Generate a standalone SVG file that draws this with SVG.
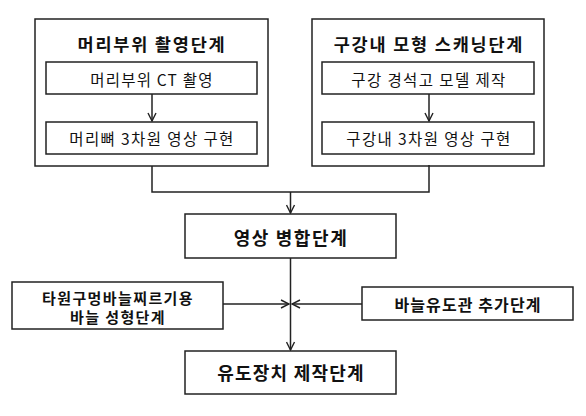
<svg xmlns="http://www.w3.org/2000/svg" width="586" height="416" viewBox="0 0 586 416">
<style>
.box{fill:#fff;stroke:#222;stroke-width:1.5}
.t{font-family:"Noto Sans CJK KR","Noto Sans",sans-serif;fill:#111;text-anchor:middle;dominant-baseline:central}
.b{font-weight:bold}
.ln{fill:none;stroke:#222;stroke-width:1.5}
</style>
<defs>
<marker id="ah" viewBox="0 0 10 10" refX="9" refY="5" markerWidth="10" markerHeight="10" markerUnits="userSpaceOnUse" orient="auto">
<polyline points="1,1 9,5 1,9" fill="none" stroke="#222" stroke-width="1.4"/>
</marker>
</defs>
<rect width="586" height="416" fill="#fff"/>
<g id="head-stage">
<rect class="box" x="35" y="19" width="233" height="147"/>
<text class="t b" x="152" y="43" font-size="17.5" letter-spacing="1.8">머리부위 촬영단계</text>
</g>
<g id="head-ct">
<rect class="box" x="46" y="62" width="211" height="32"/>
<text class="t" x="152" y="79" font-size="15.5" letter-spacing="1.2">머리부위 CT 촬영</text>
</g>
<g id="skull-3d">
<rect class="box" x="46" y="122" width="211" height="32"/>
<text class="t" x="152" y="138" font-size="15.5" letter-spacing="1.4">머리뼈 3차원 영상 구현</text>
</g>
<g id="oral-stage">
<rect class="box" x="312" y="19" width="232" height="147"/>
<text class="t b" x="429" y="43" font-size="17.5" letter-spacing="1.8">구강내 모형 스캐닝단계</text>
</g>
<g id="oral-model">
<rect class="box" x="322" y="62" width="212" height="32"/>
<text class="t" x="429" y="79" font-size="15.5" letter-spacing="1.4">구강 경석고 모델 제작</text>
</g>
<g id="oral-3d">
<rect class="box" x="322" y="122" width="212" height="32"/>
<text class="t" x="429" y="138" font-size="15.5" letter-spacing="1.4">구강내 3차원 영상 구현</text>
</g>
<g id="merge">
<rect class="box" x="185" y="214" width="211" height="44"/>
<text class="t b" x="291" y="237" font-size="18" letter-spacing="1.6">영상 병합단계</text>
</g>
<g id="needle-form">
<rect class="box" x="12" y="282" width="211" height="47"/>
<text class="t b" x="118" y="297" font-size="15" letter-spacing="1.4">타원구멍바늘찌르기용</text>
<text class="t b" x="118" y="316" font-size="15" letter-spacing="1.4">바늘 성형단계</text>
</g>
<g id="guide-tube">
<rect class="box" x="362" y="287" width="211" height="33"/>
<text class="t b" x="468" y="304" font-size="16" letter-spacing="1.1">바늘유도관 추가단계</text>
</g>
<g id="device">
<rect class="box" x="185" y="351" width="211" height="43"/>
<text class="t b" x="291" y="372" font-size="18" letter-spacing="1.2">유도장치 제작단계</text>
</g>
<g id="connectors">
<line class="ln" x1="152" y1="94" x2="152" y2="121" marker-end="url(#ah)"/>
<line class="ln" x1="429" y1="94" x2="429" y2="121" marker-end="url(#ah)"/>
<polyline class="ln" points="152,166 152,192 429,192 429,165"/>
<line class="ln" x1="290.5" y1="192" x2="290.5" y2="213" marker-end="url(#ah)"/>
<line class="ln" x1="290.5" y1="258" x2="290.5" y2="350" marker-end="url(#ah)"/>
<line class="ln" x1="223" y1="304" x2="289" y2="304" marker-end="url(#ah)"/>
<line class="ln" x1="362" y1="304" x2="292" y2="304" marker-end="url(#ah)"/>
</g>
</svg>
